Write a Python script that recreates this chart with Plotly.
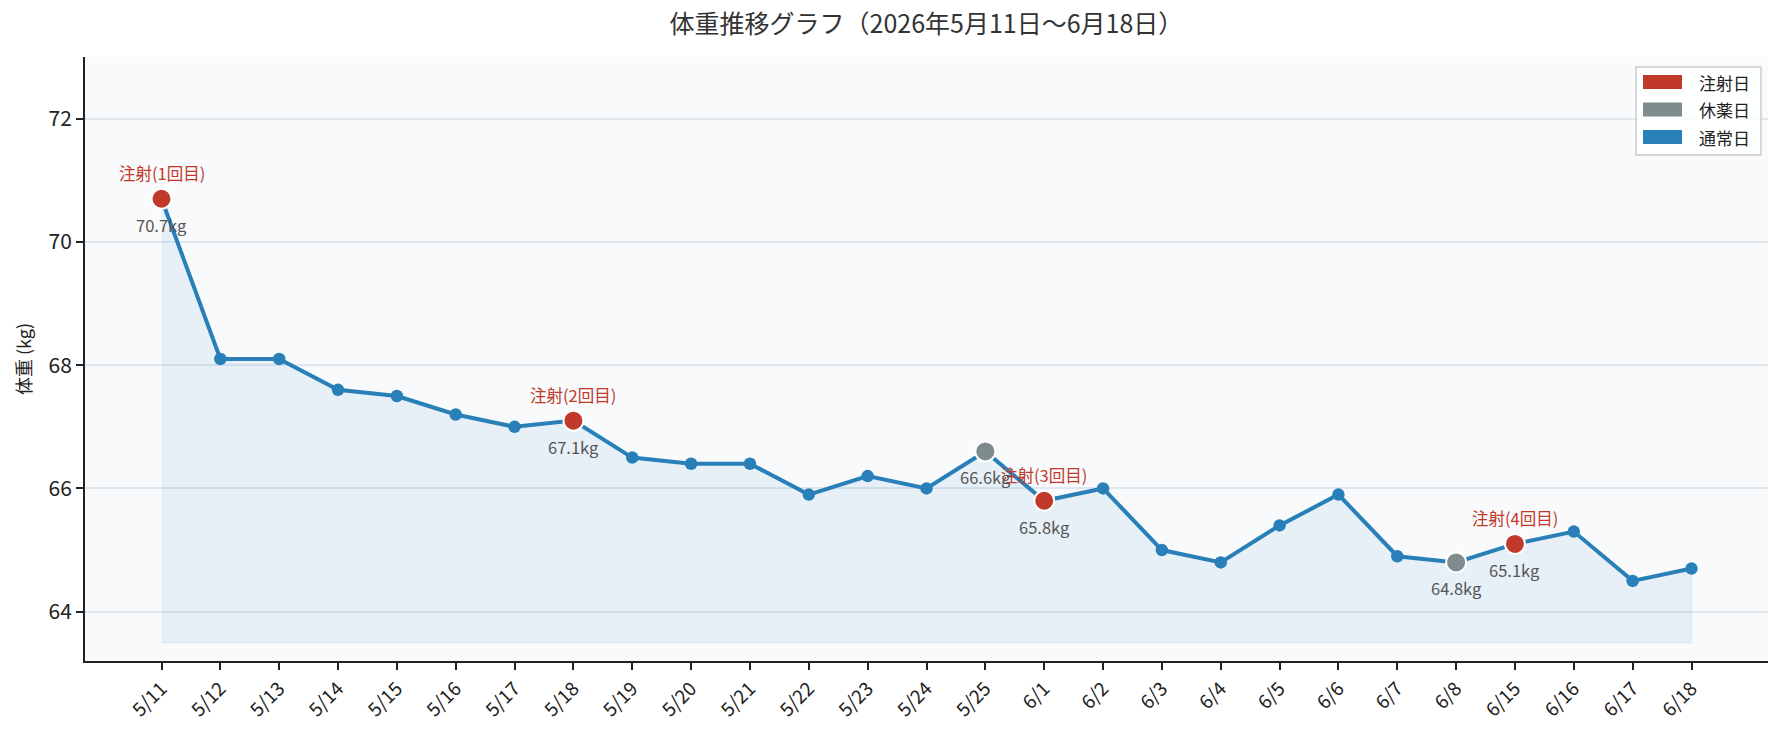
import plotly.graph_objects as go

# ---- data ----
dates = ['5/11', '5/12', '5/13', '5/14', '5/15', '5/16', '5/17', '5/18', '5/19', '5/20',
         '5/21', '5/22', '5/23', '5/24', '5/25', '6/1', '6/2', '6/3', '6/4', '6/5',
         '6/6', '6/7', '6/8', '6/15', '6/16', '6/17', '6/18']
weights = [70.7, 68.1, 68.1, 67.6, 67.5, 67.2, 67.0, 67.1, 66.5, 66.4,
           66.4, 65.9, 66.2, 66.0, 66.6, 65.8, 66.0, 65.0, 64.8, 65.4,
           65.9, 64.9, 64.8, 65.1, 65.3, 64.5, 64.7]
day_types = ['inj', 'normal', 'normal', 'normal', 'normal', 'normal', 'normal', 'inj', 'normal', 'normal',
             'normal', 'normal', 'normal', 'normal', 'rest', 'inj', 'normal', 'normal', 'normal', 'normal',
             'normal', 'normal', 'rest', 'inj', 'normal', 'normal', 'normal']
injection_labels = ['注射(1回目)', '注射(2回目)', '注射(3回目)', '注射(4回目)']
fill_base = 63.5
y_ticks = [64, 66, 68, 70, 72]
legend_labels = ['注射日', '休薬日', '通常日']

C_INJ = '#c0392b'
C_REST = '#7f8c8d'
C_NORM = '#2980b9'
legend_colors = [C_INJ, C_REST, C_NORM]
FONT = 'Noto Sans CJK JP'

fig = go.Figure()

# filled area
fig.add_trace(go.Scatter(
    x=dates + dates[::-1],
    y=weights + [fill_base] * len(dates),
    fill='toself', fillcolor='rgba(41,128,185,0.08)',
    line=dict(color='rgba(41,128,185,0.10)', width=1.5),
    mode='lines', hoverinfo='skip', showlegend=False))

# main line
fig.add_trace(go.Scatter(
    x=dates, y=weights, mode='lines+markers',
    line=dict(color=C_NORM, width=4),
    marker=dict(color=C_NORM, size=12.5),
    showlegend=False))

inj_idx = [i for i, t in enumerate(day_types) if t == 'inj']
rest_idx = [i for i, t in enumerate(day_types) if t == 'rest']

for idx, col in ((rest_idx, C_REST), (inj_idx, C_INJ)):
    fig.add_trace(go.Scatter(
        x=[dates[i] for i in idx], y=[weights[i] for i in idx], mode='markers',
        marker=dict(color=col, size=20, line=dict(color='white', width=2)),
        showlegend=False))

annotations = []
for k, i in enumerate(inj_idx):
    annotations.append(dict(x=dates[i], y=weights[i], xref='x', yref='y', text=injection_labels[k],
                            showarrow=False, yshift=26, font=dict(family=FONT, size=16.5, color=C_INJ)))
for i in inj_idx + rest_idx:
    annotations.append(dict(x=dates[i], y=weights[i], xref='x', yref='y', text=f'{weights[i]:.1f}kg',
                            showarrow=False, yshift=-26, font=dict(family=FONT, size=16.5, color='#555555')))

# manual legend (plot area: x 85..1768, y 57..661)
L, R, T, B = 85, 1768, 57, 661
W, H = R - L, B - T
def px(x):
    return (x - L) / W
def py(y):
    return (B - y) / H

shapes = []
bx0, bx1, by0, by1 = px(1636), px(1761), py(67), py(155)
shapes.append(dict(type='rect', xref='paper', yref='paper', x0=bx0, x1=bx1, y0=by1, y1=by0,
                   line=dict(color='#cccccc', width=1.5), fillcolor='rgba(255,255,255,0.85)', layer='above'))
for j, (lab, col) in enumerate(zip(legend_labels, legend_colors)):
    cy = 82 + j * 27.5
    shapes.append(dict(type='rect', xref='paper', yref='paper', x0=px(1643), x1=px(1682),
                       y0=py(cy + 7), y1=py(cy - 7), line=dict(width=0), fillcolor=col, layer='above'))
    annotations.append(dict(x=px(1697), y=py(cy), xref='paper', yref='paper', text=lab, showarrow=False,
                            xanchor='left', yanchor='middle', font=dict(family=FONT, size=17, color='#222222')))

fig.update_layout(
    width=1784, height=735,
    margin=dict(l=L, r=1784 - R, t=T, b=735 - B),
    paper_bgcolor='white', plot_bgcolor='#f8fafc',
    font=dict(family=FONT, color='#222222'),
    title=dict(text='体重推移グラフ（2026年5月11日〜6月18日）', x=0.5, xref='paper', xanchor='center',
               y=1 - 24 / 735, yref='container', yanchor='middle',
               font=dict(family=FONT, size=25, color='#333333')),
    shapes=shapes, annotations=annotations, showlegend=False,
)
fig.update_xaxes(type='category', range=[-1.3, 27.3], showgrid=False, zeroline=False,
                 showline=True, linecolor='#222222', linewidth=2,
                 ticks='outside', ticklen=7, tickwidth=1.7, tickcolor='#222222',
                 tickangle=-45, tickfont=dict(family=FONT, size=19, color='#222222'))
fig.update_yaxes(range=[63.2, 73], tickvals=y_ticks, showgrid=True, gridcolor='#dfe7ef', gridwidth=1.5,
                 zeroline=False, showline=True, linecolor='#222222', linewidth=2,
                 ticks='outside', ticklen=7, tickwidth=1.7, tickcolor='#222222',
                 tickfont=dict(family=FONT, size=21, color='#222222'),
                 title=dict(text='体重 (kg)', standoff=12, font=dict(family=FONT, size=18, color='#222222')))

fig.write_html('out.html')
